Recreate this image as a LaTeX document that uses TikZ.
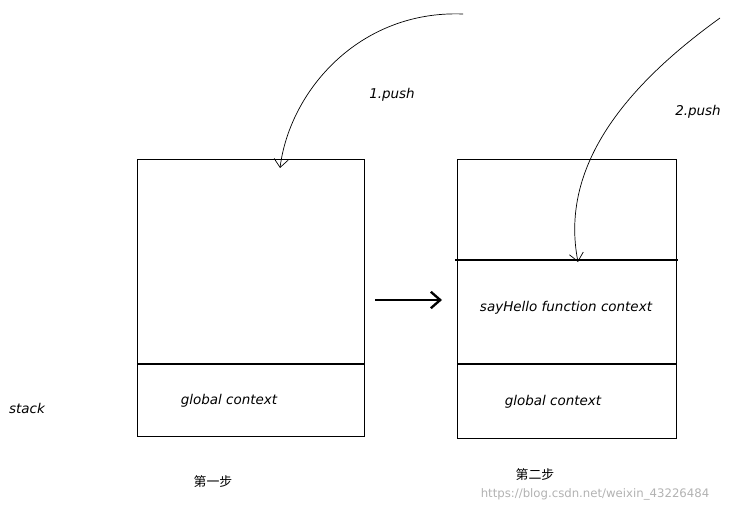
\documentclass[tikz,border=0pt]{standalone}
\usepackage{fontspec}
\setmainfont{DejaVu Sans}
\newfontfamily\cjk{Noto Sans CJK SC}
\usetikzlibrary{positioning,arrows,arrows.meta,calc}
\tikzset{
    x=0.03cm,
    y=-0.03cm,
    frame/.style = {
        draw,
        line width=0.8pt
    },
    divider/.style = {
        draw,
        line width=1.5pt
    },
    hand/.style = {
        font=\itshape\fontsize{11.5}{13}\selectfont
    },
    push/.style = {
        draw,
        line width=0.6pt,
        -{Straight Barb[length=7pt,width=12pt]}
    },
    >=stealth',
}

\begin{document}
\begin{tikzpicture}
        \useasboundingbox (0,0) rectangle (739,512);

        \node[frame, minimum width=227*0.03cm, minimum height=277*0.03cm, anchor=north west] (box0) at (137,159) {};
        \node[frame, minimum width=219*0.03cm, minimum height=279*0.03cm, anchor=north west] (box1) at (457,159) {};

        \coordinate (div0l) at (137,364);
        \coordinate (div0r) at (364,364);
        \coordinate (div1l) at (455,260);
        \coordinate (div1r) at (678,260);
        \coordinate (div2l) at (457,364);
        \coordinate (div2r) at (676,364);

        \path[divider] (div0l) -- (div0r);
        \path[divider] (div1l) -- (div1r);
        \path[divider] (div2l) -- (div2r);

        \node[hand] (global0) at (229,401) {global context};
        \node[hand] (sayhello) at (566,308) {sayHello function context};
        \node[hand] (global1) at (553,402) {global context};
        \node[hand] (stack) at (27,408) {stack};
        \node[hand] (push0) at (392,95) {1.push};
        \node[hand] (push1) at (698,112) {2.push};

        \node[font=\cjk\fontsize{11}{13}\selectfont] (step0) at (213,482) {第一步};
        \node[font=\cjk\fontsize{11}{13}\selectfont] (step1) at (535,475) {第二步};
        \node[font=\fontsize{10}{12}\selectfont, text=gray!60] (mark) at (595,494) {https://blog.csdn.net/weixin\_43226484};

        \coordinate (from0) at (463,14);
        \coordinate (to0) at (280,168);
        \coordinate (from1) at (720,18);
        \coordinate (to1) at (578,262);
        \coordinate (mid0) at (375,300);
        \coordinate (mid1) at (442,300);

        \path[push] (from0) .. controls (360,10) and (290,90) .. (to0);
        \path[push] (from1) .. controls (620,90) and (560,170) .. (to1);
        \path[draw, line width=2pt, -{Straight Barb[length=8pt,width=14pt]}] (mid0) -- (mid1);

\end{tikzpicture}
\end{document}
